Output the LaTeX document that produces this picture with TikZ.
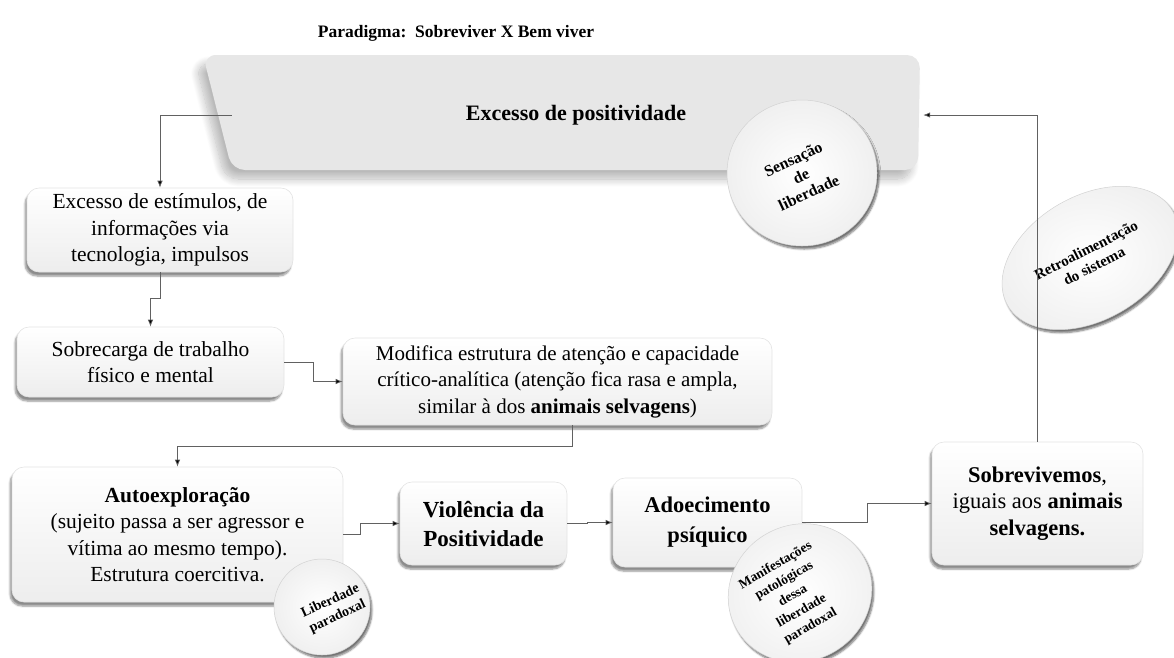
\documentclass[tikz,border=0pt]{standalone}
\usepackage{fontspec}
\setmainfont{Liberation Serif}
\usetikzlibrary{arrows.meta,shadows,shadows.blur,shapes.geometric}
\tikzset{
  box/.style={rectangle, rounded corners=12pt, align=center,
    top color=white, bottom color=gray!14, draw=gray!22, line width=0.6pt,
    blur shadow={shadow xshift=-2pt, shadow yshift=-4pt, shadow opacity=45, shadow blur steps=6},
    font=\fontsize{21.5}{26.5}\selectfont, inner sep=2pt},
  bigbox/.style={fill=gray!19, rounded corners=13pt,
    blur shadow={shadow xshift=-7pt, shadow yshift=-9pt, shadow opacity=28, shadow blur steps=14, shadow blur radius=8pt}},
  bubble/.style={ellipse, inner color=white, outer color=gray!12, draw=gray!35, line width=0.5pt,
    blur shadow={shadow xshift=2pt, shadow yshift=-3pt, shadow opacity=55, shadow blur steps=6}},
  bubtext/.style={align=center, inner sep=0pt},
  conn/.style={draw=black!62, line width=0.75pt, -{Latex[length=7pt,width=5.5pt,fill=black]}},
}
\begin{document}
\begin{tikzpicture}[x=1pt,y=-1pt]
\useasboundingbox (0,0) rectangle (1174,657);
% title
\node[font=\fontsize{17.5}{21}\selectfont\bfseries] (title) at (456,33) {Paradigma:\ \ Sobreviver X Bem viver};
% big box
\path[bigbox] (203,55) -- (920,55) -- (918,170) -- (232,170) -- cycle;
\node[minimum width=688pt, minimum height=115pt, inner sep=0pt, font=\fontsize{22}{26}\selectfont\bfseries] (pos) at (576,115) {Excesso de positividade};
% bubble Sensação
\node[bubble, minimum width=150pt, minimum height=146pt] (bsens) at (802,173) {};
\node[bubtext, rotate=25, font=\fontsize{16}{18.5}\selectfont\bfseries] (tsens) at (801,176) {Sensação\\de\\liberdade};
% boxes
\node[box, minimum width=266pt, minimum height=84pt] (estim) at (160,230) {Excesso de estímulos, de\\informações via\\tecnologia, impulsos};
\node[box, minimum width=267pt, minimum height=70pt] (sobre) at (150.5,362) {Sobrecarga de trabalho\\físico e mental};
\node[box, minimum width=429pt, minimum height=87pt, font=\fontsize{21}{26.5}\selectfont] (modif) at (557.5,381.5) {Modifica estrutura de atenção e capacidade\\crítico-analítica (atenção fica rasa e ampla,\\similar à dos \textbf{animais selvagens})};
\node[box, minimum width=331pt, minimum height=135pt] (auto) at (177.5,534.5) {\textbf{Autoexploração}\\(sujeito passa a ser agressor e\\vítima ao mesmo tempo).\\Estrutura coercitiva.};
\node[box, minimum width=167pt, minimum height=83pt, font=\fontsize{23}{29}\selectfont\bfseries] (viol) at (483.5,523.5) {Violência da\\Positividade};
\node[box, minimum width=189pt, minimum height=89pt, font=\fontsize{22.5}{30}\selectfont\bfseries] (adoe) at (707.5,522.5) {Adoecimento\\psíquico};
\node[box, minimum width=211pt, minimum height=123pt, font=\fontsize{22.5}{26.5}\selectfont] (sobv) at (1037.5,503.5) {\textbf{Sobrevivemos},\\iguais aos \textbf{animais}\\\textbf{selvagens.}};
% bubbles
\node[bubble, rotate=30, minimum width=190pt, minimum height=124pt] (bretro) at (1090,258) {};
\node[bubtext, rotate=27, font=\fontsize{15}{18}\selectfont\bfseries] (tretro) at (1090,258) {Retroalimentação\\do sistema};
\node[bubble, minimum width=96pt, minimum height=96pt] (blib) at (322,607) {};
\node[bubtext, rotate=25, font=\fontsize{14}{17}\selectfont\bfseries] (tlib) at (334,609) {Liberdade\\paradoxal};
\node[bubble, rotate=30, minimum width=146pt, minimum height=136pt] (bman) at (800,593) {};
\node[bubtext, rotate=30, font=\fontsize{13.5}{17.5}\selectfont\bfseries] (tman) at (793,596) {Manifestações\\patológicas\\dessa\\liberdade\\paradoxal};
% connectors
\draw[conn] (pos.west) -| (estim.north);
\draw[conn] (estim.south) -- ++(0,26) -| (sobre.north);
\draw[conn] (sobre.east) -- ++(29,0) |- (modif.west);
\draw[conn] ([xshift=15pt]modif.south) -- ++(0,21) -| (auto.north);
\draw[conn] (auto.east) -- ++(17,0) |- (viol.west);
\draw[conn] (viol.east) -- ++(20,0) |- (adoe.west);
\draw[conn] (adoe.east) -- ++(65,0) |- (sobv.west);
\draw[conn] (sobv.north) |- ([xshift=3pt]pos.east);
\end{tikzpicture}
\end{document}
